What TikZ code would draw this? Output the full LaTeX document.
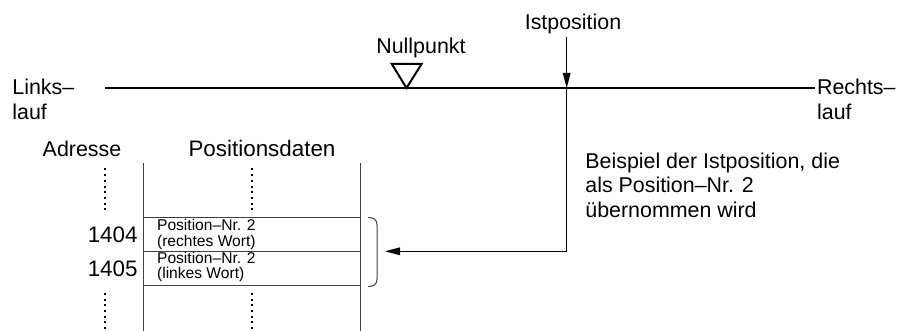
\documentclass[tikz,border=0pt]{standalone}
\usepackage{fontspec}
\setmainfont{Liberation Sans}
\usetikzlibrary{arrows.meta}
\begin{document}
\begin{tikzpicture}[x=0.5pt,y=-0.5pt,
  lbl/.style={inner sep=0pt,font=\fontsize{10.7}{12}\selectfont},
  small/.style={inner sep=0pt,font=\fontsize{7.8}{8}\selectfont},
  num/.style={inner sep=0pt,font=\fontsize{11.2}{12}\selectfont},
  axisline/.style={line width=0.65pt},
  tbl/.style={line width=0.5pt,draw=black!75},
  dotline/.style={line width=1pt,dash pattern=on 1pt off 1.85pt},
  tip/.style={-{Triangle[length=7.5pt,width=3.8pt]}}]
\useasboundingbox (0,0) rectangle (902,331);

% axis
\coordinate (axL) at (105,88);
\coordinate (axR) at (815,88);
\draw[axisline] (axL) -- (axR);
\node[lbl,anchor=base west] (links1) at (12,95) {Links–};
\node[lbl,anchor=base west] (links2) at (12,120) {lauf};
\node[lbl,anchor=base west] (rechts1) at (816.7,95) {Rechts–};
\node[lbl,anchor=base west] (rechts2) at (816.7,120) {lauf};

% Nullpunkt
\node[lbl,anchor=base] (null) at (421,53.3) {Nullpunkt};
\draw[line width=1pt] (391.7,63.8) -- (421.7,63.8) -- (406.5,88) -- cycle;

% Istposition
\node[lbl,anchor=base] (ist) at (573,30) {Istposition};
\coordinate (istTop) at (566.7,37);
\coordinate (istAx) at (566.7,88);
\coordinate (istBot) at (566.7,251.3);
\coordinate (arrEnd) at (385,251.3);
\draw[axisline,tip] (istTop) -- (istAx);
\draw[axisline,tip] (istAx) -- (istBot) -- (arrEnd);

% explanation
\node[lbl,anchor=base west] (ex1) at (585,168.5) {Beispiel der Istposition, die};
\node[lbl,anchor=base west] (ex2) at (585,193) {als Position–Nr. 2};
\node[lbl,anchor=base west] (ex3) at (585,217.5) {übernommen wird};

% table headers
\node[lbl,anchor=base] (adr) at (82,157) {Adresse};
\node[lbl,anchor=base,font=\fontsize{11.2}{12}\selectfont] (pos) at (262,157) {Positionsdaten};

% table
\draw[tbl] (143.3,163) -- (143.3,331);
\draw[tbl] (360.7,163) -- (360.7,331);
\draw[tbl] (143.3,217.3) -- (360.7,217.3);
\draw[tbl] (143.3,251.3) -- (360.7,251.3);
\draw[tbl] (143.3,285.3) -- (360.7,285.3);

% dotted lines
\draw[dotline] (105,168.5) -- (105,211);
\draw[dotline] (251.7,168.5) -- (251.7,211);
\draw[dotline] (105,293) -- (105,331);
\draw[dotline] (251.7,293) -- (251.7,331);

% addresses
\node[num,anchor=base east] (a1404) at (138,242.7) {1404};
\node[num,anchor=base east] (a1405) at (138,276.3) {1405};

% box texts
\node[small,anchor=base west] (b1a) at (156.7,231) {Position–Nr. 2};
\node[small,anchor=base west] (b1b) at (156.7,246.5) {(rechtes Wort)};
\node[small,anchor=base west] (b2a) at (156.7,263.3) {Position–Nr. 2};
\node[small,anchor=base west] (b2b) at (156.7,279) {(linkes Wort)};

% bracket
\draw[tbl] (368.3,217.5) .. controls (374.5,217.5) and (377,220) .. (377,225)
  -- (377,279) .. controls (377,284) and (374.5,286.5) .. (368.3,286.5);
\end{tikzpicture}
\end{document}
